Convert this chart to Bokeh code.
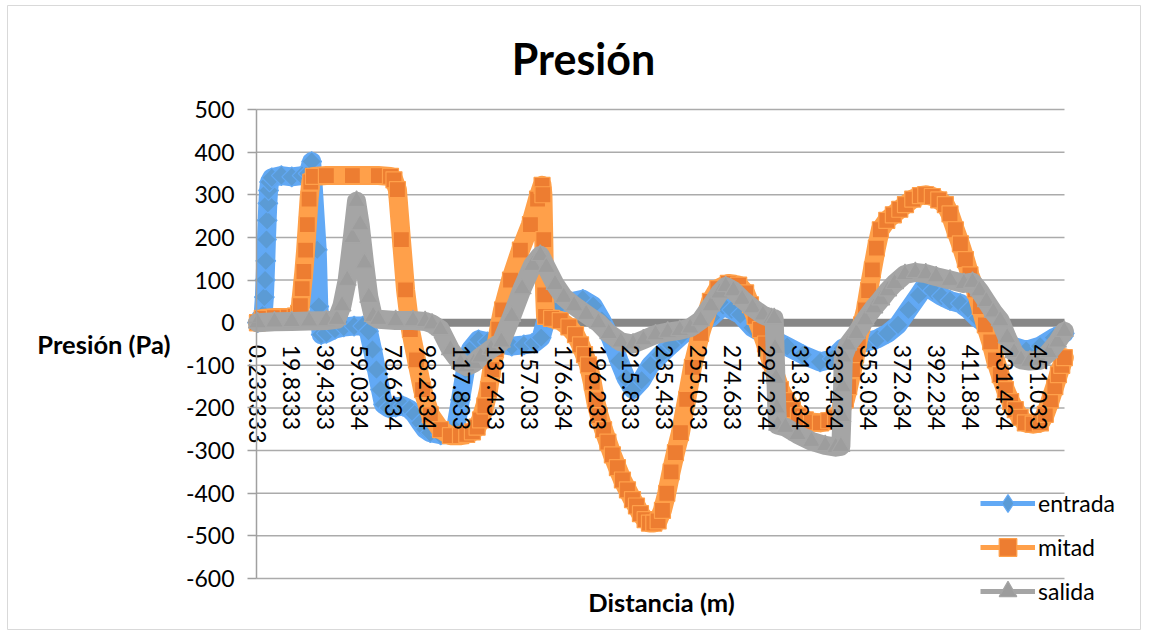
import math
from bokeh.plotting import figure
from bokeh.models import (Range1d, FixedTicker, Label, Legend, LegendItem)
from bokeh.embed import file_html
from bokeh.resources import INLINE

# ---------------- data ----------------
x_tick_labels = ["0.233333", "19.8333", "39.4333", "59.0334", "78.6334", "98.2334",
                 "117.833", "137.433", "157.033", "176.634", "196.233", "215.833",
                 "235.433", "255.033", "274.633", "294.234", "313.834", "333.434",
                 "353.034", "372.634", "392.234", "411.834", "431.434", "451.033"]
y_tick_labels = ["-600", "-500", "-400", "-300", "-200", "-100", "0", "100", "200",
                 "300", "400", "500"]

entrada_d = [0.233, 3.5, 4.2, 4.6, 5.0, 5.4, 5.8, 6.2, 6.6, 7.2, 8.5, 14, 20, 26, 29.5,
             31.5, 34.7, 35.6, 37, 40, 45, 50, 56, 61, 64.3, 66.6, 68.9, 71.2, 73, 76,
             80, 84, 88, 91, 94.3, 97, 100, 106, 112, 114.5, 117.4, 120.3, 123.2, 127.8,
             133, 140, 147, 154, 160, 164, 167, 172, 180, 188, 194, 199, 204, 209, 213,
             217, 222, 227, 233, 239, 245, 250, 256, 262, 269, 274, 279, 286, 296, 306,
             315, 325, 332, 338, 345, 352, 358, 364, 370, 376, 382, 386, 390, 395, 400,
             406, 411, 416, 421, 428, 436, 444, 452, 460, 466]
entrada_p = [0, 20, 60, 100, 145, 195, 240, 280, 310, 330, 340, 345, 342, 345, 350,
             378, 171, 38, -28, -25, -15, -10, -8, -8, -20, -63, -110, -157, -192, -200,
             -198, -195, -203, -215, -235, -250, -258, -263, -262, -251, -181, -110, -63, -40,
             -45, -50, -55, -52, -48, -35, 10, 30, 48, 55, 40, 5, -35, -90, -130,
             -157, -135, -100, -75, -52, -30, -16, 0, 12, 40, 30, 19, -12, -35, -56,
             -75, -92, -85, -60, -50, -45, -38, -25, -5, 30, 65, 90, 75, 62, 52,
             45, 30, 10, -5, -30, -55, -65, -55, -35, -25]

mitad_d = [0.233, 3, 10, 18, 22, 24, 25, 26, 27, 28, 29, 30, 31, 32.5, 40, 55, 70, 77,
           79, 81, 83.3, 85.7, 88.5, 92, 95.5, 100, 105.9, 111.6, 117.4, 121, 124.3, 127,
           129, 131.5, 133.6, 135.5, 137.6, 139.5, 141.7, 146.3, 152, 157.8, 161.9, 164.5,
           165, 165.5, 166, 166.5, 170, 175, 180, 183.8, 186.7, 189, 191.3, 193.5, 195.3,
           197.5, 200, 202.5, 205.1, 208, 210.9, 213.8, 216.7, 219, 221.3, 224, 226.5,
           229, 231.5, 234, 236.5, 239, 241.5, 244.4, 248, 251.3, 256, 261.7, 266, 272,
           278, 282, 284.8, 287.5, 290.6, 293.5, 296.4, 299, 302.1, 305.5, 309, 312.5,
           316.5, 320, 325.2, 330, 333.9, 337, 339.6, 341.5, 343.7, 345.5, 347.1, 349,
           351.2, 353, 355.2, 357.5, 359.8, 363.5, 367.3, 371, 374.3, 378.5, 382.9, 386,
           389.8, 393.5, 397.3, 400, 403.1, 406, 408.9, 411.5, 414.6, 417.5, 420.4, 423.5,
           426.2, 429, 432, 435, 437.7, 440.5, 443.5, 448, 452.2, 455, 458, 460.5, 462.6,
           464.5, 466]
mitad_p = [0, 10, 12, 13, 15, 22, 40, 80, 120, 170, 230, 290, 330, 343, 345, 345, 345, 343,
           335, 312, 195, 77, -16, -87, -157, -216, -251, -265, -265, -262, -256, -245,
           -228, -195, -157, -110, -63, -15, 30, 100, 170, 230, 290, 322,
           300, 195, 65, 15, 10, 5, -10, -28, -52, -75, -99, -140, -181,
           -218, -251, -280, -310, -340, -369, -392, -415, -430, -448, -462, -470,
           -470, -465, -440, -400, -350, -305, -258, -180, -105, -25, 50, 80, 92,
           88, 70, 42, 15, -16, -50, -87, -120, -157, -183, -204, -218,
           -228, -233, -235, -230, -223, -205, -181, -150, -110, -75, -40, -5,
           30, 75, 124, 175, 218, 240, 253, 266, 277, 290, 298, 300,
           296, 288, 277, 255, 218, 185, 148, 112, 77, 38, -5, -45,
           -87, -122, -157, -185, -204, -222, -235, -238, -235, -215, -181, -150, -122,
           -100, -82]

salida_d = [0.233, 10, 20, 30, 40, 46, 49, 52, 55, 57.4, 59.5, 62, 64.5, 67, 70, 80, 90,
            97, 101, 105.8, 111.6, 117.4, 121, 125, 129, 135, 141, 147, 153, 159, 163.5,
            167, 172, 177, 183, 190, 197, 203, 210, 217, 223, 230, 237, 244, 250, 256,
            262, 267, 270.5, 275, 280, 286, 292, 297, 298.5, 299, 299.5, 300, 300.5, 305,
            312, 320, 328, 334, 337, 337.6, 338, 338.4, 341, 346, 351, 356, 360, 364, 368,
            374, 380, 386, 392, 400, 408, 413, 417, 421, 425, 429, 433, 437, 441, 446,
            452, 457, 462, 466]
salida_p = [0, 2, 3, 4, 5, 8, 40, 100, 200, 285, 230, 140, 60, 15, 8, 5, 5,
            3, -3, -16, -63, -95, -103, -95, -80, -62, -45, 15, 80, 135, 158,
            130, 90, 60, 40, 20, 0, -25, -45, -50, -40, -28, -22, -18, -12, 5,
            40, 70, 85, 75, 55, 35, 18, 10, 10, -60, -130, -200, -240, -245,
            -262, -278, -288, -292, -290, -220, -150, -80, -52, -25, 7, 35, 54, 75, 92,
            113, 118, 115, 108, 100, 92, 95, 75, 50, 25, 5, -35, -70, -87, -90,
            -88, -70, -45, -20]

x_tick_values = [float(s) for s in x_tick_labels]
y_tick_values = [int(s) for s in y_tick_labels]

# ---------------- layout (page pixels) ----------------
FONT = "Lato"
CANVAS_W, CANVAS_H = 1142, 631
PLOT_L, PLOT_R, PLOT_T, PLOT_B = 256, 1064, 109, 578
X0, X1 = -0.35, 466.1
Y0, Y1 = y_tick_values[0], y_tick_values[-1]
KX = (PLOT_R - PLOT_L) / (X1 - X0)
KY = (PLOT_B - PLOT_T) / (Y1 - Y0)


def px_x(px):
    return X0 + (px - PLOT_L) / KX


def px_y(py):
    return Y0 + (PLOT_B - py) / KY


p = figure(width=CANVAS_W, height=CANVAS_H, output_backend="svg", toolbar_location=None,
           x_range=Range1d(px_x(0), px_x(CANVAS_W)),
           y_range=Range1d(px_y(CANVAS_H), px_y(0)),
           min_border=0, min_border_left=0, min_border_right=0,
           min_border_top=0, min_border_bottom=0)
p.title.text = ""
p.title.visible = False
p.outline_line_color = None
p.background_fill_color = "white"
p.border_fill_color = "white"
p.xgrid.visible = False
p.ygrid.visible = False

# chart-area border
p.quad(left=[px_x(7)], right=[px_x(1140)], top=[px_y(5)], bottom=[px_y(629)],
       fill_color=None, line_color="#D9D9D9", line_width=1)

# horizontal gridlines, limited to the plot area
p.segment(x0=[X0] * len(y_tick_values), x1=[X1] * len(y_tick_values),
          y0=y_tick_values, y1=y_tick_values, line_color="#ABABAB", line_width=1.5)

# thick horizontal axis band at zero
p.segment(x0=[X0], x1=[X1], y0=[0], y1=[0], line_color="#878787", line_width=8)

# category labels hanging from the zero line
xa = p.xaxis[0]
xa.fixed_location = 0
xa.ticker = FixedTicker(ticks=x_tick_values)
xa.major_label_overrides = {v: s for v, s in zip(x_tick_values, x_tick_labels)}
xa.major_label_orientation = "vertical"
xa.axis_line_color = None
xa.major_tick_line_color = None
xa.minor_tick_line_color = None
xa.major_label_standoff = 16
xa.major_label_text_font = FONT
xa.major_label_text_font_size = "23px"
xa.major_label_text_color = "black"

ya = p.yaxis[0]
ya.fixed_location = X0
ya.bounds = (Y0, Y1)
ya.ticker = FixedTicker(ticks=y_tick_values)
ya.major_label_overrides = {v: s for v, s in zip(y_tick_values, y_tick_labels)}
ya.major_label_text_font = FONT
ya.major_label_text_font_size = "23px"
ya.major_label_text_color = "black"
ya.major_label_standoff = 13
ya.major_tick_out = 9
ya.major_tick_in = 0
ya.minor_tick_line_color = None
ya.axis_line_color = "#A0A0A0"
ya.axis_line_width = 1.5
ya.major_tick_line_color = "#A0A0A0"
ya.major_tick_line_width = 1.5

series = [
    ("entrada", entrada_d, entrada_p, "#62A9F5", "#5B9BD5", "square", 14, math.pi / 4, "diamond"),
    ("mitad", mitad_d, mitad_p, "#FFA04A", "#ED7D31", "square", 16, 0.0, "square"),
    ("salida", salida_d, salida_p, "#A5A5A5", "#9D9D9D", "triangle", 18, 0.0, "triangle"),
]

items = []
for name, d, v, lc, fc, mk, sz, ang, lmk in series:
    thin = p.line(d, v, line_color=lc, line_width=5)
    # the legend's marker: the series' first point in the legend's marker shape
    key = p.scatter(d[:1], v[:1], marker=lmk, size=sz, fill_color=fc, line_color=lc,
                    line_width=1.2)
    p.line(d, v, line_color=lc, line_width=19, line_join="round", line_cap="round")
    p.scatter(d, v, marker=mk, size=sz, angle=ang, fill_color=fc,
              line_color=lc, line_width=1.2)
    items.append(LegendItem(label=name, renderers=[thin, key]))

# legend: glyph from x=980 to 1035 on the page, rows 44 px apart, first row at y=503
legend = Legend(items=items, location=(980, CANVAS_H - 613), glyph_width=55,
                glyph_height=44, label_height=44, spacing=0, padding=5,
                label_standoff=3, label_text_font=FONT, label_text_font_size="23px",
                label_text_color="black", background_fill_alpha=0,
                border_line_color=None, margin=0)
p.add_layout(legend)

# titles
p.add_layout(Label(x=px_x(583), y=px_y(58), text="Presión", text_align="center",
                   text_baseline="middle", text_font=FONT, text_font_style="bold",
                   text_font_size="43px", text_color="black"))
p.add_layout(Label(x=px_x(170), y=px_y(343), text="Presión (Pa)", text_align="right",
                   text_baseline="middle", text_font=FONT, text_font_style="bold",
                   text_font_size="25.5px", text_color="black"))
p.add_layout(Label(x=px_x(661), y=px_y(601), text="Distancia (m)", text_align="center",
                   text_baseline="middle", text_font=FONT, text_font_style="bold",
                   text_font_size="25.5px", text_color="black"))

open("out.html", "w").write(file_html(p, INLINE))
